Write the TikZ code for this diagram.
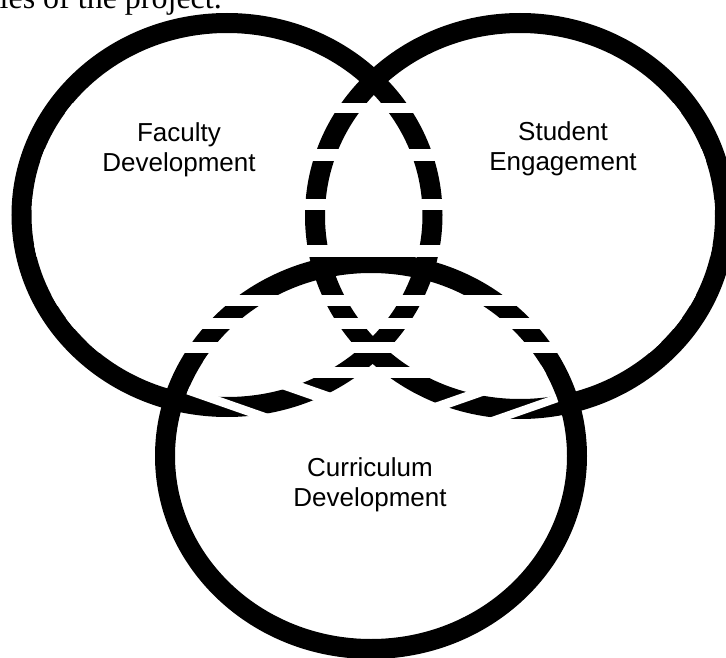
\documentclass[tikz,border=0pt]{standalone}
\usepackage{fontspec}
\newfontfamily\arialf{Liberation Sans}
\newfontfamily\timesf{Liberation Serif}
\begin{document}
\begin{tikzpicture}[x=1pt,y=-1pt,
  ring/.style={draw=black,line width=20pt},
  lbl/.style={font=\arialf\fontsize{26}{30}\selectfont,align=center,anchor=base,inner sep=0pt},
  gapband/.style={fill=white}]
\useasboundingbox (0,0) rectangle (726,658);
\node[anchor=base east,inner sep=0pt,font=\timesf\fontsize{32}{36}\selectfont] (cap) at (222,9) {ies of the project.};
% circles
\coordinate (cl) at (227,215);
\coordinate (cr) at (520,216);
\coordinate (cb) at (371,456);
\draw[ring] (cl) ellipse [x radius=205.5pt, y radius=192pt];
\draw[ring] (cr) ellipse [x radius=205pt, y radius=193pt];
\draw[ring] (cb) ellipse [x radius=206pt, y radius=193pt];
% white bands that break the arcs inside other circles
\foreach \c/\rx/\ry in {cl/195.5/182, cr/195/183, cb/196/183}{
  \begin{scope}
    \clip (\c) ellipse [x radius=\rx pt, y radius=\ry pt];
    \foreach \ya/\yb in {102.7/113.3,149.3/160.7,198.7/210,245/257,295/306,317.7/329,341.7/352.7}{
      \fill[gapband] (0,\ya) rectangle (726,\yb);
    }
    \fill[gapband] (300,366.7) rectangle (450,377.7);
  \end{scope}
}
% slanted breaks in the lower arcs inside the bottom circle
\begin{scope}
  \clip (cb) ellipse [x radius=196pt, y radius=183pt];
  \foreach \ba/\bb in {277/290.5,320/329}{
    \fill[gapband] (180,{0.35*180+\ba}) -- (373,{0.35*373+\ba}) -- (373,{0.35*373+\bb}) -- (180,{0.35*180+\bb}) -- cycle;
  }
  \foreach \ba/\bb in {555/565,589/597.5}{
    \fill[gapband] (373,{-0.35*373+\ba}) -- (566,{-0.35*566+\ba}) -- (566,{-0.35*566+\bb}) -- (373,{-0.35*373+\bb}) -- cycle;
  }
\end{scope}
\node[lbl] (fd) at (179,171.7) {Faculty\\Development};
\node[lbl] (se) at (563,170.5) {Student\\Engagement};
\node[lbl] (cd) at (370,506) {Curriculum\\Development};
\end{tikzpicture}
\end{document}
